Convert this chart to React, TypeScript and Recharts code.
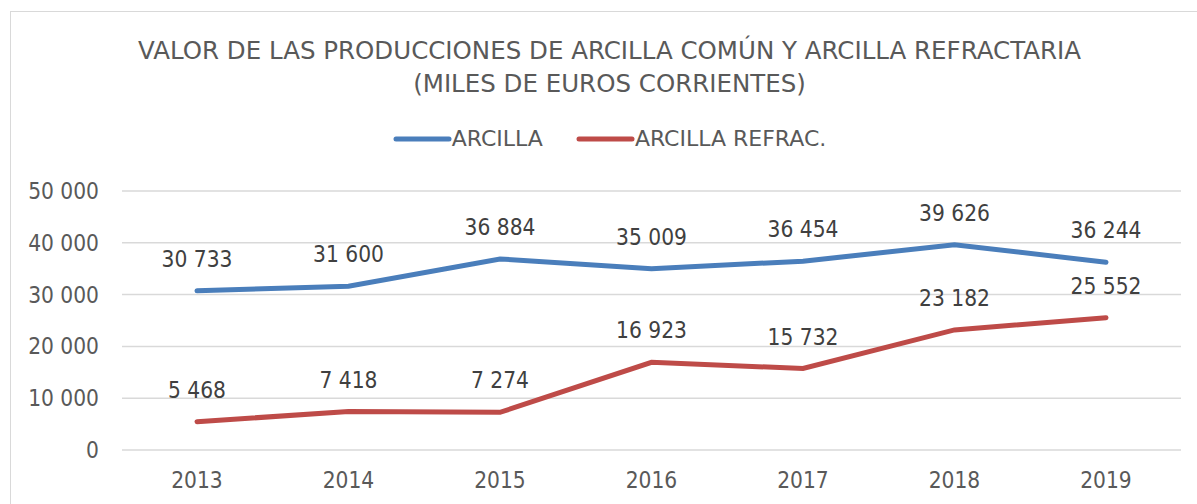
import { LineChart, Line, XAxis, YAxis, CartesianGrid, Legend, LabelList } from "recharts";

const years = ["2013", "2014", "2015", "2016", "2017", "2018", "2019"];
const arcilla = [30733, 31600, 36884, 35009, 36454, 39626, 36244];
const arcillaRefrac = [5468, 7418, 7274, 16923, 15732, 23182, 25552];
const yTicks = [0, 10000, 20000, 30000, 40000, 50000];

const FONT = "'DejaVu Sans Condensed', 'DejaVu Sans', sans-serif";
const FONT_WIDE = "'DejaVu Sans', sans-serif";
const BLUE = "#4a7ebb";
const RED = "#be4b48";

const data = years.map((y, i) => ({
  year: y,
  arcilla: arcilla[i],
  refrac: arcillaRefrac[i],
}));

// miles con espacio: 30733 -> "30 733"
const fmt = (v: number) => String(v).replace(/\B(?=(\d{3})+(?!\d))/g, " ");

const legendItems = [
  { label: "ARCILLA", color: BLUE },
  { label: "ARCILLA REFRAC.", color: RED },
];

function LegendBox() {
  return (
    <div style={{ display: "flex", justifyContent: "center", gap: 33 }}>
      {legendItems.map((it) => (
        <div key={it.label} style={{ display: "flex", alignItems: "center" }}>
          <svg width={59} height={10}>
            <line x1={3} y1={5} x2={56} y2={5} stroke={it.color} strokeWidth={5} strokeLinecap="round" />
          </svg>
          <span style={{ fontFamily: FONT_WIDE, fontSize: 22, color: "#595959", lineHeight: "24px" }}>
            {it.label}
          </span>
        </div>
      ))}
    </div>
  );
}

export default function App() {
  return (
    <div style={{ position: "absolute", left: 0, top: 0, width: 1197, height: 504, overflow: "hidden", background: "#fff" }}>
      <div
        style={{
          position: "absolute",
          left: 10,
          top: 11,
          width: 1220,
          height: 520,
          border: "1.5px solid #d9d9d9",
        }}
      />
      <div
        style={{
          position: "absolute",
          left: 10,
          width: 1199,
          top: 34,
          textAlign: "center",
          fontFamily: FONT_WIDE,
          fontSize: 24.5,
          lineHeight: "33px",
          color: "#595959",
        }}
      >
        VALOR DE LAS PRODUCCIONES DE ARCILLA COMÚN Y ARCILLA REFRACTARIA
        <br />
        (MILES DE EUROS CORRIENTES)
      </div>
      <div style={{ position: "absolute", left: 0, top: 0 }}>
        <LineChart width={1197} height={504} data={data} margin={{ top: 167, right: 16, bottom: 0, left: 0 }}>
          <CartesianGrid vertical={false} stroke="#d9d9d9" strokeWidth={1.5} />
          <XAxis
            dataKey="year"
            axisLine={false}
            tickLine={false}
            tickSize={0}
            tickMargin={22}
            height={54}
            padding={{ left: 75, right: 75 }}
            tick={{ fontFamily: FONT, fontSize: 22.5, fill: "#595959" }}
          />
          <YAxis
            domain={[0, 50000]}
            ticks={yTicks}
            axisLine={false}
            tickLine={false}
            tickSize={0}
            tickMargin={23}
            width={122}
            tickFormatter={fmt}
            tick={{ fontFamily: FONT, fontSize: 22.5, fill: "#595959" }}
          />
          <Legend
            verticalAlign="top"
            content={() => <LegendBox />}
            wrapperStyle={{ top: 127, left: 0, width: 1219 }}
          />
          <Line
            type="linear"
            dataKey="arcilla"
            name="ARCILLA"
            stroke={BLUE}
            strokeWidth={5}
            strokeLinecap="round"
            dot={false}
            isAnimationActive={false}
          >
            <LabelList dataKey="arcilla" position="top" offset={24} formatter={(v: any) => fmt(Number(v))} style={{ fontFamily: FONT, fontSize: 22.5, fill: "#404040" }} />
          </Line>
          <Line
            type="linear"
            dataKey="refrac"
            name="ARCILLA REFRAC."
            stroke={RED}
            strokeWidth={5}
            strokeLinecap="round"
            dot={false}
            isAnimationActive={false}
          >
            <LabelList dataKey="refrac" position="top" offset={24} formatter={(v: any) => fmt(Number(v))} style={{ fontFamily: FONT, fontSize: 22.5, fill: "#404040" }} />
          </Line>
        </LineChart>
      </div>
    </div>
  );
}
